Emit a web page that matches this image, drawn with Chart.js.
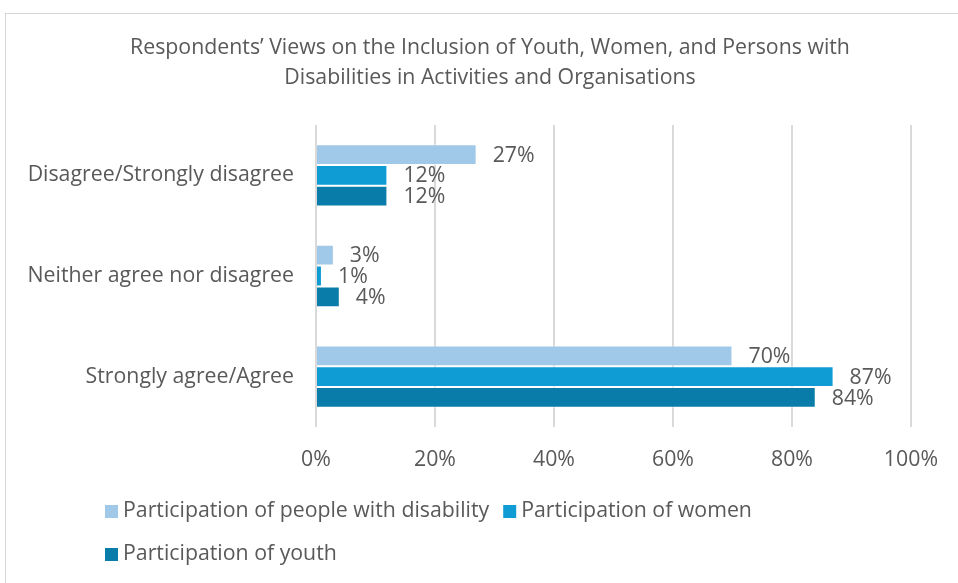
<!DOCTYPE html>
<html>
<head>
<meta charset="utf-8">
<script src="https://cdn.jsdelivr.net/npm/chart.js@4"></script>
<style>
  html, body { margin: 0; padding: 0; background: #ffffff; overflow: hidden; }
  #wrap { position: relative; width: 958px; height: 583px; }
  #frame { position: absolute; left: 5px; top: 13px; width: 1000px; height: 1000px;
           border: 1px solid #d6d6d6; box-sizing: border-box; }
  #chart { position: absolute; left: 0; top: 0; }
</style>
</head>
<body>
<div id="wrap">
  <div id="frame"></div>
  <canvas id="chart" width="958" height="583"></canvas>
</div>
<script>
// Response categories (top to bottom)
const categories = [
  'Disagree/Strongly disagree',
  'Neither agree nor disagree',
  'Strongly agree/Agree'
];

// Series names
const seriesNames = [
  'Participation of people with disability',
  'Participation of women',
  'Participation of youth'
];

// Share of respondents (%) per category
const disabilityValues = [27, 3, 70];
const womenValues = [12, 1, 87];
const youthValues = [12, 4, 84];

// Value axis ticks (%)
const xTickValues = [0, 20, 40, 60, 80, 100];

const titleLines = [
  'Respondents\u2019 Views on the Inclusion of Youth, Women, and Persons with',
  'Disabilities in Activities and Organisations'
];

const seriesColors = ['#A0C8E8', '#0F9CD5', '#0A7CAA'];
const textColor = '#595959';
const FONT = 'Open Sans';
const FONT_SIZE = 21.3;
const fontCss = FONT_SIZE + 'px "' + FONT + '"';

// Two-line heading centred above the plot
const heading = {
  id: 'heading',
  afterDraw(chart) {
    const ctx = chart.ctx;
    ctx.save();
    ctx.font = fontCss;
    ctx.fillStyle = textColor;
    ctx.textAlign = 'center';
    ctx.textBaseline = 'middle';
    titleLines.forEach((line, i) => ctx.fillText(line, 490, 48 + i * 30));
    ctx.restore();
  }
};

// Percentage labels placed just past the end of each bar
const valueLabels = {
  id: 'valueLabels',
  afterDatasetsDraw(chart) {
    const ctx = chart.ctx;
    ctx.save();
    ctx.font = fontCss;
    ctx.fillStyle = textColor;
    ctx.textAlign = 'left';
    ctx.textBaseline = 'middle';
    chart.data.datasets.forEach((ds, i) => {
      const meta = chart.getDatasetMeta(i);
      meta.data.forEach((bar, j) => {
        ctx.fillText(ds.data[j] + '%', bar.x + 16, bar.y + 1);
      });
    });
    ctx.restore();
  }
};

// Legend under the plot, flowing left to right and wrapping
const bottomLegend = {
  id: 'bottomLegend',
  afterDraw(chart) {
    const ctx = chart.ctx;
    ctx.save();
    ctx.font = fontCss;
    ctx.textAlign = 'left';
    ctx.textBaseline = 'middle';
    const startX = 105, maxRight = 800, rowGap = 43;
    let x = startX, y = 511;
    chart.data.datasets.forEach((ds) => {
      const w = 18 + ctx.measureText(ds.label).width;
      if (x + w > maxRight && x > startX) { x = startX; y += rowGap; }
      ctx.fillStyle = ds.backgroundColor;
      ctx.fillRect(x, y - 6, 13, 13);
      ctx.fillStyle = textColor;
      ctx.fillText(ds.label, x + 18, y);
      x += w + 14;
    });
    ctx.restore();
  }
};

const datasets = [disabilityValues, womenValues, youthValues].map((vals, i) => ({
  label: seriesNames[i],
  data: vals,
  backgroundColor: seriesColors[i],
  borderColor: 'rgba(255,255,255,0.55)',
  borderWidth: 1,
  categoryPercentage: 0.62,
  barPercentage: 1.0
}));

new Chart(document.getElementById('chart'), {
  type: 'bar',
  data: { labels: categories, datasets: datasets },
  plugins: [heading, valueLabels, bottomLegend],
  options: {
    indexAxis: 'y',
    responsive: false,
    animation: false,
    layout: { padding: { top: 125, left: 19, right: 45, bottom: 100 } },
    plugins: {
      legend: { display: false },
      tooltip: { enabled: false },
      title: { display: false }
    },
    scales: {
      x: {
        min: 0,
        max: 100,
        afterBuildTicks(scale) { scale.ticks = xTickValues.map(v => ({ value: v })); },
        afterFit(scale) { scale.height = 56; },
        ticks: {
          padding: 20,
          color: textColor,
          font: { family: FONT, size: FONT_SIZE },
          callback: (v) => v + '%'
        },
        grid: { color: '#d9d9d9', lineWidth: 2, drawTicks: false },
        border: { display: false }
      },
      y: {
        afterFit(scale) { scale.width = 297; },
        ticks: {
          padding: 22,
          color: textColor,
          font: { family: FONT, size: FONT_SIZE }
        },
        grid: { display: false, drawTicks: false },
        border: { display: false }
      }
    }
  }
});
</script>
</body>
</html>
